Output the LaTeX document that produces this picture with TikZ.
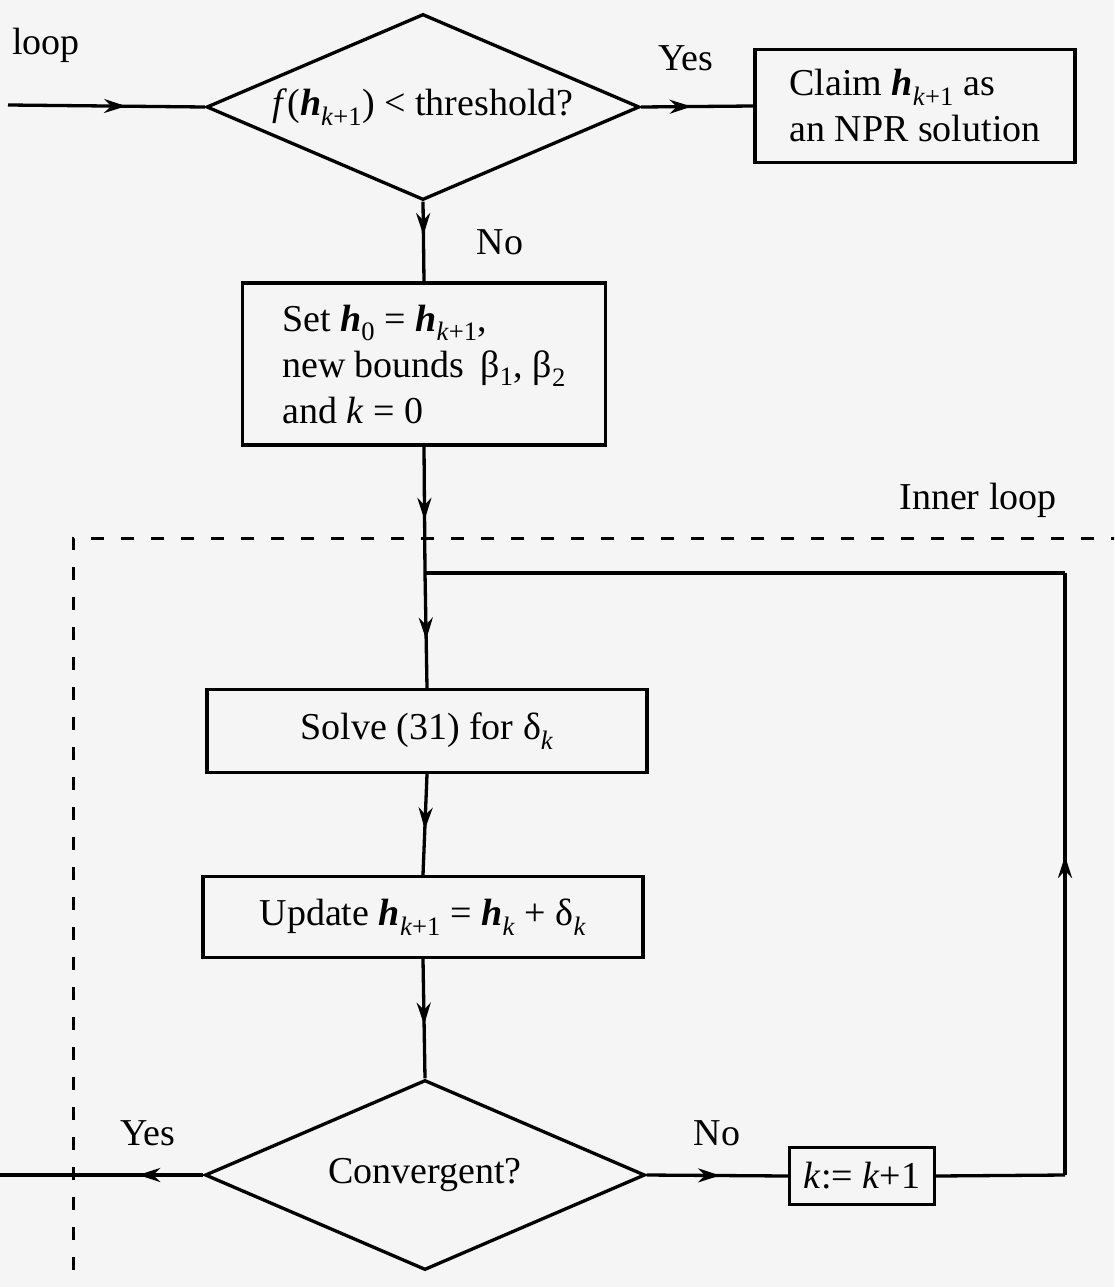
\documentclass[tikz,border=0pt]{standalone}
\usepackage{fontspec}
\setmainfont{Liberation Serif}
\usetikzlibrary{shapes.geometric,arrows.meta,decorations.markings}
\newcommand{\hvec}[1]{\textbf{\textit{h}}\textsubscript{#1}}
\definecolor{bgc}{HTML}{F5F5F5}
\tikzset{
  txt/.style={font=\fontsize{38}{46}\selectfont, inner sep=0pt},
  boxnode/.style={txt, draw, line width=3.3pt},
  decnode/.style={txt, draw, diamond, line width=3.3pt},
  conn/.style={line width=3.3pt},
  marrow/.style={postaction={decorate, decoration={markings, mark=at position #1 with {\arrow{Stealth[length=22pt,width=14pt]}}}}},
  lbl/.style={txt}
}
\begin{document}
\begin{tikzpicture}[x=1pt,y=-1pt]
\useasboundingbox (0,0) rectangle (1114,1287);
\fill[bgc] (0,0) rectangle (1114,1287);
\clip (0,0) rectangle (1114,1287);
% nodes
\node[decnode, minimum width=433pt, minimum height=186pt, aspect=2.3] (d1) at (423,107) {\textit{f}(\hvec{\textit{k}+1}) < threshold?};
\node[boxnode, minimum width=320pt, minimum height=113pt, align=left] (claim) at (915,106) {Claim \hvec{\textit{k}+1} as\\an NPR solution};
\node[boxnode, minimum width=363pt, minimum height=162pt, align=left] (set) at (424,364) {Set \hvec{0} = \hvec{\textit{k}+1},\\new bounds \,β\textsubscript{1}, β\textsubscript{2}\\and \textit{k} = 0};
\node[boxnode, minimum width=440pt, minimum height=83pt] (solve) at (427,731) {Solve (31) for δ\textsubscript{\textit{k}}};
\node[boxnode, minimum width=440pt, minimum height=81pt] (update) at (423,917) {Update \hvec{\textit{k}+1} = \hvec{\textit{k}} + δ\textsubscript{\textit{k}}};
\node[decnode, minimum width=440pt, minimum height=190pt, aspect=2.3] (d2) at (425,1175) {Convergent?};
\node[boxnode, minimum width=145pt, minimum height=57pt] (knode) at (862,1176) {\textit{k}:= \textit{k}+1};
% labels
\node[lbl, anchor=west] (loopl) at (12,45) {loop};
\node[lbl] (yes1) at (686,58) {Yes};
\node[lbl] (no1) at (500,242) {No};
\node[lbl] (inner) at (978,500) {Inner loop};
\node[lbl] (yes2) at (148,1133) {Yes};
\node[lbl] (no2) at (717,1133) {No};
% coordinates
\coordinate (in) at (8,105);
\coordinate (out) at (0,1175);
\coordinate (junc) at (425,573);
\coordinate (c1) at (1065,1175);
\coordinate (c2) at (1065,573);
% dashed inner loop frame
\draw[line width=3pt, dash pattern=on 13pt off 17pt] (73,1300) -- (73,538) -- (1130,538);
% connectors
\draw[conn, marrow=0.6] (in) -- (d1.west);
\draw[conn, marrow=0.45] (d1.east) -- (claim.west);
\draw[conn, marrow=0.42] (d1.south) -- (set.north);
\draw[conn, marrow=0.58] (set.south) -- (junc);
\draw[conn, marrow=0.58] (junc) -- (solve.north);
\draw[conn, marrow=0.55] (solve.south) -- (update.north);
\draw[conn, marrow=0.55] (update.south) -- (d2.north);
\draw[conn, marrow=0.32] (d2.west) -- (out);
\draw[conn, marrow=0.52] (d2.east) -- (knode.west);
\draw[conn] (knode.east) -- (c1);
\draw[conn, marrow=0.53] (c1) -- (c2);
\draw[conn] (c2) -- (junc);
\end{tikzpicture}
\end{document}
